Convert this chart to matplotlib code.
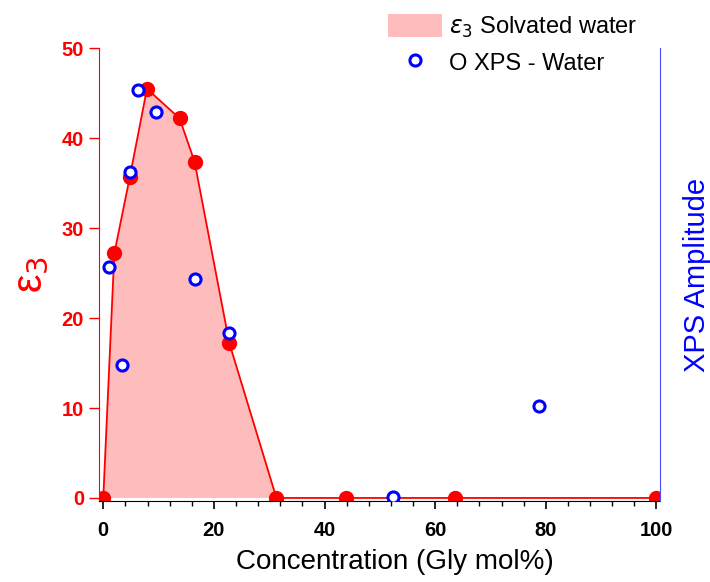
import numpy as np
import matplotlib.pyplot as plt
from matplotlib.ticker import MultipleLocator

plt.rcParams['font.family'] = ['Liberation Sans', 'DejaVu Sans']

# epsilon_3 (solvated water) vs glycerol concentration
conc_eps = [0, 2.0, 4.8, 7.9, 13.8, 16.5, 22.8, 31.3, 43.9, 63.5, 100]
eps3 = [0, 27.2, 35.7, 45.5, 42.2, 37.4, 17.2, 0, 0, 0, 0]

# O XPS water amplitude
conc_xps = [1.1, 3.4, 4.8, 6.2, 9.6, 16.5, 22.7, 52.4, 78.7]
xps_amp = [25.7, 14.8, 36.3, 45.4, 42.9, 24.4, 18.3, 0.1, 10.2]

fig = plt.figure(figsize=(7.1, 5.82), dpi=100)
ax = fig.add_axes([0.14, 0.139, 0.79, 0.778])

ax.fill_between(conc_eps, eps3, 0, facecolor='#ffbcbc', edgecolor='none',
                label=r'$\varepsilon_3$ Solvated water')
ax.plot(conc_eps, eps3, color='red', lw=1.3, marker='o', ms=10, mec='red', mfc='red')

ax.set_xlim(-0.7, 100.7)
ax.set_ylim(-0.35, 50)
ax.xaxis.set_major_locator(MultipleLocator(20))
ax.xaxis.set_minor_locator(MultipleLocator(4))
ax.yaxis.set_major_locator(MultipleLocator(10))

ax.tick_params(axis='x', which='major', direction='out', length=5.5, width=1.2,
               labelsize=14.5, pad=8.5)
ax.tick_params(axis='x', which='minor', direction='out', length=3.5, width=1)
ax.tick_params(axis='y', direction='out', length=7, width=1, colors='red',
               labelsize=14.5, pad=4)
for lab in ax.get_xticklabels() + ax.get_yticklabels():
    lab.set_fontweight('bold')

ax.spines['top'].set_visible(False)
ax.spines['right'].set_visible(False)
ax.spines['left'].set_color('red')
ax.spines['bottom'].set_color('black')

ax.set_xlabel('Concentration (Gly mol%)', fontsize=20, labelpad=9)
ax.xaxis.set_label_coords(0.526, -0.105)
ax.set_ylabel('ε$_3$', fontsize=30, color='red', labelpad=8)

ax2 = ax.twinx()
ax2.plot(conc_xps, xps_amp, ls='none', marker='o', ms=8, mfc='white',
         mec='blue', mew=2.2, label='O XPS - Water')
ax2.set_ylim(-0.35, 50)
ax2.set_yticks([])
for s in ['top', 'left', 'bottom']:
    ax2.spines[s].set_visible(False)
ax2.spines['right'].set_color('#4d4dff')
ax2.set_ylabel('XPS Amplitude', fontsize=21, color='blue', labelpad=16)

h1, l1 = ax.get_legend_handles_labels()
h2, l2 = ax2.get_legend_handles_labels()
fig.legend(h1 + h2, l1 + l2, loc='upper left', bbox_to_anchor=(0.516, 1.012),
           frameon=False, fontsize=17, handlelength=2.3, handleheight=1.1,
           handletextpad=0.3, labelspacing=0.45)

plt.savefig('out.png', dpi=100)
